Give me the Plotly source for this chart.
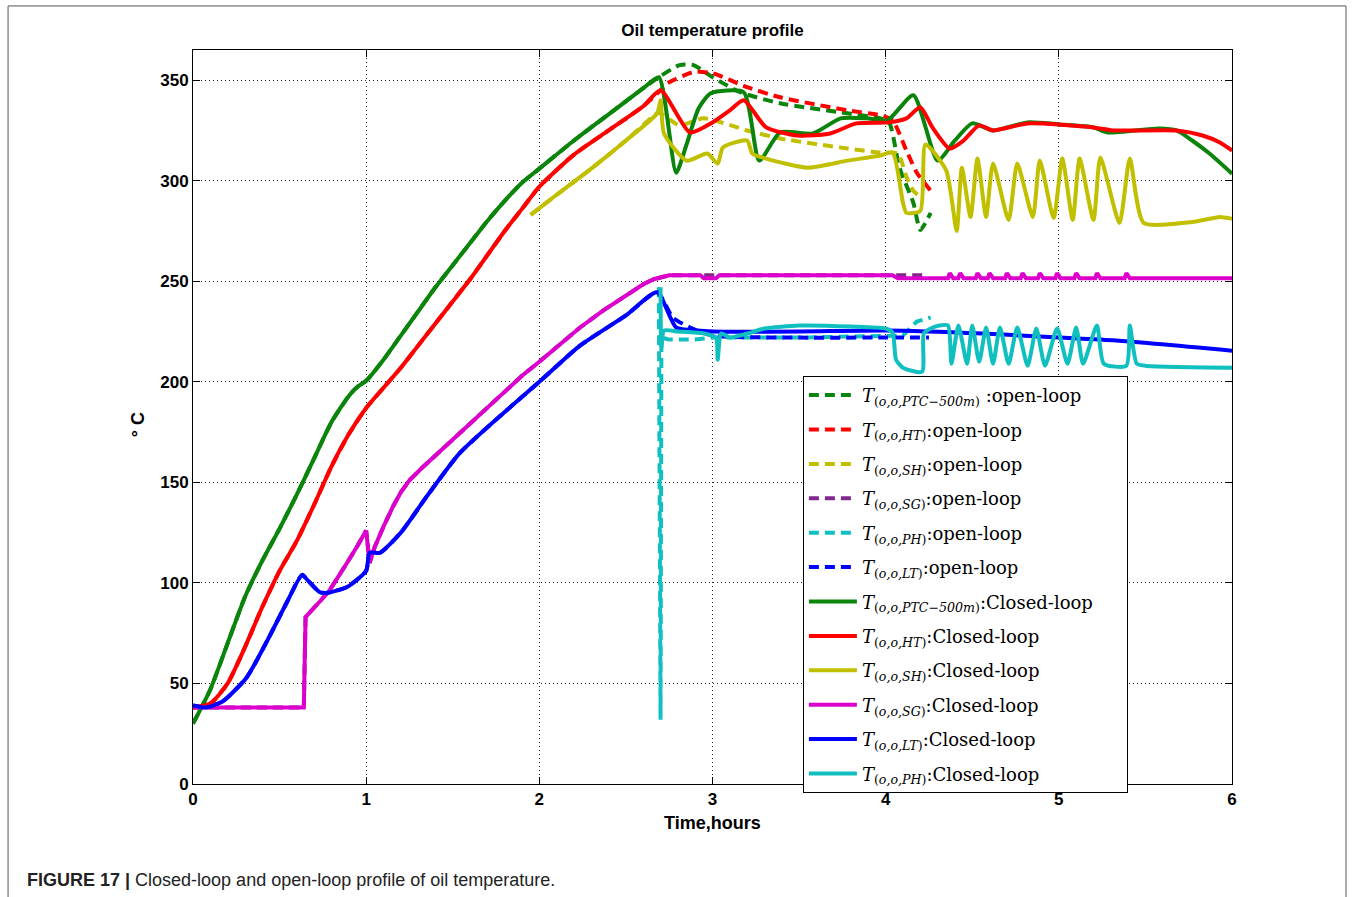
import plotly.graph_objects as go

# ---------------- time axis and temperatures (hours, deg C) ----------------
# PTC outlet (500 m) - shared heat-up phase
T_PTC_RISE = [0, 0.1, 0.2, 0.3, 0.4, 0.5, 0.6, 0.7, 0.8, 0.9, 0.95, 1.0, 1.1, 1.2, 1.3, 1.4,
              1.5, 1.6, 1.7, 1.8, 1.9, 2.0, 2.2, 2.4, 2.6, 2.69]
V_PTC_RISE = [30, 47, 70, 93, 111, 127, 144, 162, 180, 193, 197.5, 200.5, 211, 223, 235, 247,
              258, 269, 280, 290, 299, 306, 320, 333, 346, 351.5]
T_PTC_CL = [2.79, 2.85, 2.92, 2.99, 3.18, 3.27, 3.39, 3.58, 3.74, 3.89, 4.01, 4.16, 4.30,
            4.40, 4.50, 4.62, 4.82, 5.0, 5.2, 5.28, 5.58, 5.68, 5.77, 5.87, 6.0]
V_PTC_CL = [304, 318, 336, 343.5, 344, 310, 324, 323.5, 331, 331, 330, 342.5, 310,
            320, 328.5, 325, 329, 328, 326.5, 324, 326, 325, 320, 313.5, 303.5]
T_PTC_OL = [2.81, 2.89, 3.0, 3.16, 3.39, 3.78, 3.97, 4.02, 4.08, 4.16, 4.2, 4.26]
V_PTC_OL = [357.5, 357.5, 351.5, 344, 338.5, 333.5, 331, 329, 306.5, 289, 275.5, 284]

# Heater (HT)
T_HT_RISE = [0, 0.1, 0.2, 0.3, 0.4, 0.5, 0.6, 0.7, 0.8, 0.9, 1.0, 1.1, 1.2, 1.3, 1.4,
             1.5, 1.6, 1.7, 1.8, 1.9, 2.0, 2.2, 2.4, 2.6, 2.7]
V_HT_RISE = [38, 40, 50, 68, 88, 106, 121, 139, 158, 174, 187, 197, 207, 218, 229,
             240, 251, 263, 275, 286, 297, 313, 325, 337, 345]
T_HT_CL = [2.87, 3.0, 3.1, 3.18, 3.31, 3.49, 3.68, 3.83, 4.02, 4.12, 4.2, 4.27, 4.37,
           4.45, 4.54, 4.62, 4.82, 5.2, 5.31, 5.68, 5.83, 5.93, 6.0]
V_HT_CL = [324, 329, 335, 340, 326.5, 322.5, 323.5, 328.5, 329, 331, 336.5, 326.5, 316,
           320, 327.5, 325, 328.5, 326.5, 325, 325, 322.5, 319, 315]
T_HT_OL = [2.74, 2.89, 3.0, 3.2, 3.39, 3.78, 3.97, 4.04, 4.12, 4.18, 4.26]
V_HT_OL = [348.5, 354, 353.5, 346.5, 341.5, 335, 332.5, 330, 315, 304, 295]

# Superheater (SH)
T_SH_RISE = [1.95, 2.1, 2.3, 2.5, 2.68]
V_SH_RISE = [283, 293, 306, 320, 333.5]
T_SH_CL = [2.70, 2.72, 2.85, 2.97, 3.03, 3.06, 3.2, 3.23, 3.31, 3.55, 3.78, 3.97, 4.04,
           4.10, 4.12, 4.2, 4.23, 4.35, 4.41, 4.44, 4.49, 4.53, 4.58, 4.62, 4.71, 4.76,
           4.85, 4.89, 4.97, 5.02, 5.08, 5.12, 5.2, 5.24, 5.35, 5.41, 5.49, 5.77, 5.93, 6.0]
V_SH_CL = [340, 323.5, 310, 313.5, 308.5, 316.5, 320, 313.5, 311, 306.5, 310, 312.5, 314,
           289, 284, 285, 318, 305, 275, 306.5, 282, 311, 282, 308.5, 280.5, 308.5,
           282, 310, 281.5, 311, 280.5, 311, 280.5, 311.5, 279, 311, 279, 279.5, 282, 281]
T_SH_OL = [2.70, 2.81, 2.95, 3.2, 3.39, 3.78, 3.97, 4.07, 4.12, 4.16, 4.2]
V_SH_OL = [333.5, 327.5, 331, 325, 321, 316, 314, 313.5, 302, 295, 292]

# Steam generator (SG)
T_SG_RISE = [0, 0.64, 0.65, 0.69, 0.74, 0.79, 0.84, 0.89, 0.95, 1.0, 1.02, 1.05, 1.1,
             1.155, 1.2, 1.25, 1.32, 1.39, 1.46, 1.54, 1.67, 1.8, 1.9, 2.0, 2.12, 2.235,
             2.37, 2.5, 2.6, 2.66, 2.7]
V_SG_RISE = [38, 38, 83, 86.5, 91.5, 96.5, 103, 110, 118.5, 126, 110, 118, 128,
             138, 145, 151, 157, 162.5, 168.5, 174.5, 185, 195, 203, 210, 219, 227,
             235.5, 243, 248.5, 251, 252]
T_SG_CL = [2.75, 2.93, 2.95, 3.02, 3.04, 4.04, 4.07, 4.36, 4.37, 4.39, 4.42, 4.43, 4.45,
           4.52, 4.53, 4.55, 4.59, 4.60, 4.62, 4.69, 4.70, 4.72, 4.78, 4.79, 4.81, 4.88,
           4.89, 4.91, 4.98, 4.99, 5.01, 5.09, 5.10, 5.12, 5.21, 5.22, 5.24, 5.38, 5.39,
           5.41, 6.0]
V_SG_CL = [253, 253, 251.5, 251.5, 253, 253, 251.5, 251.5, 254, 251.5, 251.5, 254, 251.5,
           251.5, 254, 251.5, 251.5, 254, 251.5, 251.5, 254, 251.5, 251.5, 254, 251.5, 251.5,
           254, 251.5, 251.5, 254, 251.5, 251.5, 254, 251.5, 251.5, 254, 251.5, 251.5, 254,
           251.5, 251.5]
T_SG_OL = [2.75, 4.22]
V_SG_OL = [253, 253]

# Low-temperature tank (LT)
T_LT_RISE = [0, 0.07, 0.17, 0.31, 0.43, 0.54, 0.63, 0.66, 0.73, 0.77, 0.89, 1.0, 1.02,
             1.08, 1.2, 1.35, 1.54, 1.8, 2.0, 2.235, 2.5, 2.68]
V_LT_RISE = [39, 38, 41, 53, 71.5, 90, 104, 101.5, 95.5, 95, 98, 106, 115,
             115, 125, 143, 164.5, 185, 200, 218, 233, 244.5]
T_LT_CL = [2.79, 2.91, 3.0, 3.5, 4.0, 4.56, 5.0, 5.33, 6.0]
V_LT_CL = [227, 225.5, 225, 225, 225.5, 224, 222, 220.5, 215.5]
T_LT_OL = [2.77, 2.87, 3.0, 3.5, 4.0, 4.25]
V_LT_OL = [232, 227, 223, 222, 222, 222]

# Preheater (PH)
T_PH_CL = [2.70, 2.705, 2.72, 2.8, 2.95, 3.02, 3.03, 3.05, 3.1, 3.2, 3.3, 3.5, 3.8, 4.0,
           4.04, 4.06, 4.10, 4.21, 4.22, 4.26, 4.31, 4.36, 4.38, 4.42, 4.47, 4.5, 4.54,
           4.58, 4.62, 4.66, 4.71, 4.76, 4.82, 4.87, 4.92, 4.99, 5.05, 5.1, 5.14, 5.22,
           5.26, 5.39, 5.41, 5.45, 5.5, 6.0]
V_PH_CL = [247, 217, 225.5, 225, 224, 222, 211, 224, 222, 224, 226.5, 228, 227.5, 226.5,
           224.5, 211, 207, 205, 224, 226.5, 228, 228, 209, 228, 209, 228, 210,
           227, 209, 227, 209, 227, 208, 226.5, 208, 226.5, 209, 227, 209, 228,
           209, 208, 228, 209, 208, 207]
T_PH_OL = [2.69, 2.70, 2.705, 2.75, 2.9, 3.0, 3.5, 4.0, 4.1, 4.18, 4.26]
V_PH_OL = [247, 32, 222, 221, 221, 222, 222, 222.5, 223, 230, 232]

# ---------------- styling ----------------
C_PTC = "#0a840a"
C_HT = "#ff0000"
C_SH = "#c0c000"
C_SG_OL = "#80288c"
C_SG_CL = "#dd00cc"
C_PH = "#10c0c0"
C_LT = "#0000ff"
LW = 4
DASH = "10px,6px"
SANS = "Liberation Sans, Arial"
PAD = "\u00a0" * 5  # right-hand breathing room inside the legend box


def lbl(sub, tag, gap="", tail=""):
    return f"<i>T</i><sub>(<i>o,o,{sub}</i>)</sub>{gap}:{tag}{tail}"


fig = go.Figure()

open_loop = [
    (T_PTC_RISE + T_PTC_OL, V_PTC_RISE + V_PTC_OL, C_PTC, lbl("PTC−500m", "open-loop", " "), "spline"),
    (T_HT_RISE + T_HT_OL, V_HT_RISE + V_HT_OL, C_HT, lbl("HT", "open-loop"), "spline"),
    (T_SH_RISE + T_SH_OL, V_SH_RISE + V_SH_OL, C_SH, lbl("SH", "open-loop"), "spline"),
    (T_SG_RISE + T_SG_OL, V_SG_RISE + V_SG_OL, C_SG_OL, lbl("SG", "open-loop"), "linear"),
    (T_PH_OL, V_PH_OL, C_PH, lbl("PH", "open-loop"), "linear"),
    (T_LT_RISE + T_LT_OL, V_LT_RISE + V_LT_OL, C_LT, lbl("LT", "open-loop"), "spline"),
]
closed_loop = [
    (T_PTC_RISE + T_PTC_CL, V_PTC_RISE + V_PTC_CL, C_PTC, lbl("PTC−500m", "Closed-loop", tail=PAD), "spline"),
    (T_HT_RISE + T_HT_CL, V_HT_RISE + V_HT_CL, C_HT, lbl("HT", "Closed-loop"), "spline"),
    (T_SH_RISE + T_SH_CL, V_SH_RISE + V_SH_CL, C_SH, lbl("SH", "Closed-loop"), "spline"),
    (T_SG_RISE + T_SG_CL, V_SG_RISE + V_SG_CL, C_SG_CL, lbl("SG", "Closed-loop"), "linear"),
    (T_LT_RISE + T_LT_CL, V_LT_RISE + V_LT_CL, C_LT, lbl("LT", "Closed-loop"), "spline"),
    (T_PH_CL, V_PH_CL, C_PH, lbl("PH", "Closed-loop"), "spline"),
]

k = 0
for group, dash in ((open_loop, DASH), (closed_loop, "solid")):
    for t, v, c, name, shape in group:
        k += 1
        fig.add_trace(go.Scatter(
            x=t, y=v, mode="lines", name=name, legendgroup=f"g{k}",
            line=dict(color=c, width=LW, dash=dash, shape=shape, smoothing=0.6)))

axis_common = dict(
    showline=True, linecolor="black", linewidth=1, mirror="ticks",
    ticks="inside", ticklen=7, tickcolor="black",
    showgrid=True, gridcolor="#222", gridwidth=1, griddash="1px,3px",
    zeroline=False,
    tickfont=dict(family=SANS, size=17, color="black", weight="bold"),
)

fig.update_layout(
    width=1354, height=897,
    margin=dict(l=193, r=122, t=50, b=113),
    paper_bgcolor="white", plot_bgcolor="white",
    title=dict(text="<b>Oil temperature profile</b>", x=0.5, xref="paper",
               y=1 - 30 / 897, yanchor="middle",
               font=dict(family=SANS, size=17, color="black")),
    xaxis=dict(range=[0, 6], tickvals=[0, 1, 2, 3, 4, 5, 6], **axis_common),
    yaxis=dict(range=[0, 365], tickvals=[0, 50, 100, 150, 200, 250, 300, 350], **axis_common),
    legend=dict(x=0.587, y=0.556, xanchor="left", yanchor="top",
                bgcolor="white", bordercolor="black", borderwidth=1,
                font=dict(family="DejaVu Serif", size=18, color="black"),
                tracegroupgap=8, traceorder="grouped", itemwidth=48),
    showlegend=True,
)

fig.add_annotation(text="<b>Time,hours</b>", xref="paper", yref="paper",
                   x=0.5, y=-0.053, showarrow=False, yanchor="middle",
                   font=dict(family=SANS, size=18, color="black"))
fig.add_annotation(text="<b>° C</b>", xref="paper", yref="paper",
                   x=-0.053, y=0.49, showarrow=False, textangle=-90,
                   xanchor="center", yanchor="middle",
                   font=dict(family=SANS, size=18, color="black"))
fig.add_annotation(text="<b>FIGURE 17 |</b> Closed-loop and open-loop profile of oil temperature.",
                   xref="paper", yref="paper", x=-0.1617, y=-0.1308,
                   xanchor="left", yanchor="middle", showarrow=False,
                   font=dict(family=SANS, size=18, color="#222"))

# outer frame of the figure panel
fig.add_shape(type="rect", xref="paper", yref="paper",
              x0=-0.178, x1=1.1097, y0=-0.16, y1=1.06,
              line=dict(color="#555", width=1), fillcolor="rgba(0,0,0,0)", layer="below")

fig.write_html("out.html")
